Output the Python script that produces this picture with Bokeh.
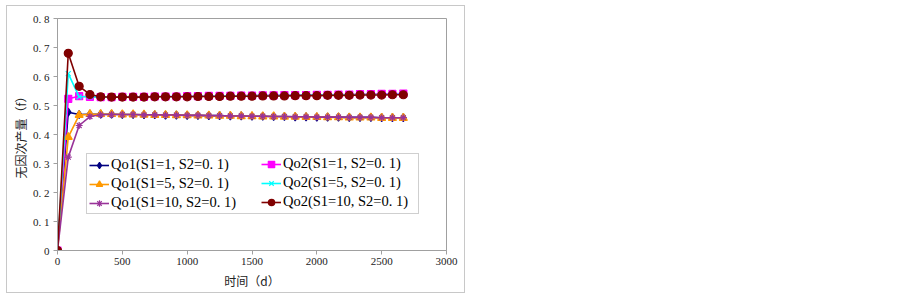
from bokeh.plotting import figure
from bokeh.models import Legend, LegendItem, FixedTicker, Range1d
from bokeh.embed import file_html
from bokeh.resources import INLINE

# ---- data ----
days = [0, 83, 167, 250, 333, 417, 500, 583, 667, 750, 833, 917, 1000, 1083, 1167, 1250,
        1333, 1417, 1500, 1583, 1667, 1750, 1833, 1917, 2000, 2083, 2167, 2250, 2333,
        2417, 2500, 2583, 2667]

qo1_s1_1 = [0, 0.477, 0.469, 0.470, 0.470, 0.470, 0.469, 0.469, 0.468, 0.468, 0.467, 0.467,
            0.466, 0.466, 0.465, 0.465, 0.464, 0.464, 0.463, 0.463, 0.462, 0.462, 0.461,
            0.461, 0.460, 0.460, 0.460, 0.459, 0.459, 0.459, 0.458, 0.458, 0.458]
qo2_s1_1 = [0, 0.523, 0.532, 0.530, 0.529, 0.529, 0.530, 0.530, 0.530, 0.531, 0.531, 0.531,
            0.532, 0.532, 0.533, 0.533, 0.533, 0.534, 0.534, 0.535, 0.535, 0.536, 0.536,
            0.536, 0.537, 0.537, 0.538, 0.538, 0.539, 0.539, 0.540, 0.540, 0.541]
qo1_s1_5 = [0, 0.391, 0.467, 0.470, 0.470, 0.470, 0.469, 0.469, 0.468, 0.467, 0.467, 0.466,
            0.466, 0.465, 0.465, 0.464, 0.464, 0.463, 0.463, 0.462, 0.462, 0.461, 0.461,
            0.460, 0.460, 0.459, 0.459, 0.458, 0.458, 0.458, 0.457, 0.457, 0.457]
qo2_s1_5 = [0, 0.610, 0.530, 0.530, 0.529, 0.529, 0.529, 0.530, 0.530, 0.530, 0.531, 0.531,
            0.531, 0.532, 0.532, 0.533, 0.533, 0.533, 0.534, 0.534, 0.534, 0.535, 0.535,
            0.536, 0.536, 0.536, 0.537, 0.537, 0.538, 0.538, 0.538, 0.539, 0.539]
qo1_s1_10 = [0, 0.322, 0.431, 0.462, 0.468, 0.469, 0.469, 0.469, 0.468, 0.468, 0.467, 0.467,
             0.466, 0.466, 0.465, 0.465, 0.464, 0.464, 0.463, 0.463, 0.462, 0.462, 0.461,
             0.461, 0.460, 0.460, 0.460, 0.459, 0.459, 0.459, 0.458, 0.458, 0.458]
qo2_s1_10 = [0, 0.680, 0.566, 0.538, 0.530, 0.529, 0.529, 0.529, 0.529, 0.530, 0.530, 0.530,
             0.530, 0.531, 0.531, 0.531, 0.532, 0.532, 0.532, 0.533, 0.533, 0.533, 0.534,
             0.534, 0.534, 0.535, 0.535, 0.535, 0.536, 0.536, 0.536, 0.537, 0.537]

series_names = ["Qo1(S1=1, S2=0. 1)", "Qo2(S1=1, S2=0. 1)",
                "Qo1(S1=5, S2=0. 1)", "Qo2(S1=5, S2=0. 1)",
                "Qo1(S1=10, S2=0. 1)", "Qo2(S1=10, S2=0. 1)"]
series_values = [qo1_s1_1, qo2_s1_1, qo1_s1_5, qo2_s1_5, qo1_s1_10, qo2_s1_10]

y_ticks = [0, 0.1, 0.2, 0.3, 0.4, 0.5, 0.6, 0.7, 0.8]
y_tick_labels = ["0", "0. 1", "0. 2", "0. 3", "0. 4", "0. 5", "0. 6", "0. 7", "0. 8"]
x_ticks = [0, 500, 1000, 1500, 2000, 2500, 3000]

x_title = "时间（d）"
y_title = "无因次产量（f）"

# ---- styles ----
colors = ["#000080", "#FF00FF", "#FF9900", "#00FFFF", "#993399", "#800000"]
markers = ["diamond", "square", "triangle", "x", "asterisk", "circle"]
msizes = [8, 7, 8, 7, 7, 8]

p = figure(width=459, height=288, output_backend="svg", toolbar_location=None,
           x_range=Range1d(0, 3000), y_range=Range1d(0, 0.8),
           min_border_left=50, min_border_right=20, min_border_top=12, min_border_bottom=44)
p.styles = {"margin-left": "6px", "margin-top": "5px", "border": "1px solid #c8c8c8"}
p.xgrid.visible = False
p.ygrid.visible = False
p.outline_line_color = "#a0a0a0"
p.outline_line_width = 1
p.background_fill_color = "white"

tick_font = "Liberation Serif"
for ax in (p.xaxis[0], p.yaxis[0]):
    ax.axis_line_color = "#a0a0a0"
    ax.major_tick_line_color = "#a0a0a0"
    ax.major_tick_out = 4
    ax.major_tick_in = 0
    ax.minor_tick_out = 0
    ax.minor_tick_in = 0
    ax.major_label_text_font = tick_font
    ax.major_label_text_font_size = "11px"
    ax.major_label_text_color = "#222222"
    ax.axis_label_text_font = "Noto Sans CJK SC"
    ax.axis_label_text_font_size = "12px"
    ax.axis_label_text_font_style = "normal"
    ax.axis_label_text_color = "#222222"

p.yaxis[0].ticker = FixedTicker(ticks=y_ticks)
p.yaxis[0].major_label_overrides = {t: l for t, l in zip(y_ticks, y_tick_labels)}
p.yaxis[0].major_label_standoff = 4
p.yaxis[0].axis_label = y_title
p.yaxis[0].axis_label_standoff = 1

p.xaxis[0].ticker = FixedTicker(ticks=x_ticks)
p.xaxis[0].major_label_standoff = 3
p.xaxis[0].axis_label = x_title
p.xaxis[0].axis_label_standoff = 4

items = []
for name, vals, c, m, s in zip(series_names, series_values, colors, markers, msizes):
    ln = p.line(days, vals, line_color=c, line_width=1.6)
    sc = p.scatter(days, vals, marker=m, size=s, line_color=c, fill_color=c, line_width=1.2)
    items.append(LegendItem(label=name, renderers=[ln, sc]))

common = dict(label_text_font="Liberation Serif", label_text_font_size="14.5px",
              label_text_color="#000000", glyph_width=20, glyph_height=16,
              label_height=16, label_standoff=2, spacing=2, padding=2, margin=0)

# left column (Qo1) with the box, right column (Qo2) laid over it
legend_left = Legend(items=items[0::2], location=(29, 36), label_width=305,
                     border_line_color="#a0a0a0", border_line_width=1,
                     background_fill_color="white", background_fill_alpha=1.0, **common)
legend_right = Legend(items=items[1::2], location=(204, 40),
                      border_line_color=None, background_fill_alpha=0.0, **common)
p.add_layout(legend_left, "center")
p.add_layout(legend_right, "center")

open("out.html", "w").write(file_html(p, INLINE))
